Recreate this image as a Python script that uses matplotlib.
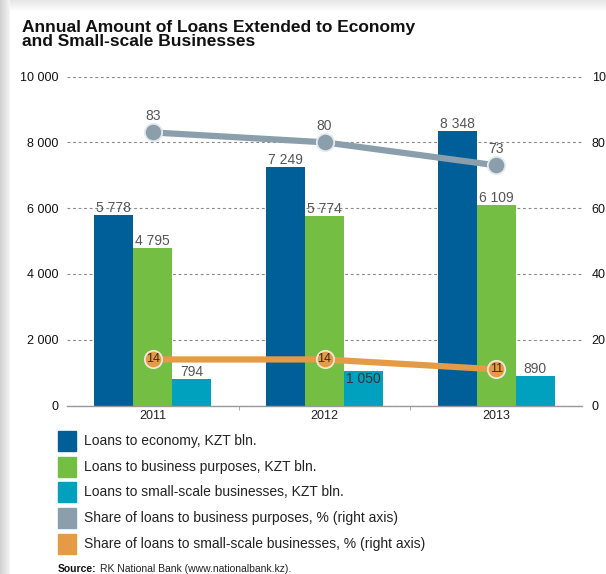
import numpy as np
import matplotlib
matplotlib.use('Agg')
import matplotlib.pyplot as plt
from matplotlib import font_manager
from matplotlib.patches import Rectangle

years = ['2011', '2012', '2013']
loans_economy = [5778, 7249, 8348]
loans_business = [4795, 5774, 6109]
loans_small = [794, 1050, 890]
share_business = [83, 80, 73]
share_small = [14, 14, 11]

left_ticks = [0, 2000, 4000, 6000, 8000, 10000]
right_ticks = [0, 20, 40, 60, 80, 100]

legend_labels = [
    'Loans to economy, KZT bln.',
    'Loans to business purposes, KZT bln.',
    'Loans to small-scale businesses, KZT bln.',
    'Share of loans to business purposes, % (right axis)',
    'Share of loans to small-scale businesses, % (right axis)',
]

COLOURS = {
    'economy': '#005f98',
    'business': '#74bf43',
    'small': '#00a0bf',
    'share_business': '#8a9fab',
    'share_small': '#e59a45',
}

W, H = 606, 574

# pick a narrow sans if there is one
available = {f.name for f in font_manager.fontManager.ttflist}
FONT = 'Liberation Sans Narrow' if 'Liberation Sans Narrow' in available else 'Liberation Sans'
plt.rcParams['font.family'] = [FONT, 'DejaVu Sans']


def fx(x):
    return x / W


def fy(y):
    return 1 - y / H


def fmt(v):
    return f'{v:,}'.replace(',', ' ')


fig = plt.figure(figsize=(W / 100, H / 100), dpi=100)
fig.patch.set_facecolor('white')

# card shadow on the left / top edge
bg = fig.add_axes([0, 0, 1, 1], zorder=-10)
bg.axis('off')
grad = np.linspace(0.82, 0.95, 10)
bg.imshow(np.tile(grad, (H, 1)), cmap='gray', vmin=0, vmax=1,
          extent=[0, 10, H, 0], aspect='auto')
grad_top = np.linspace(0.9, 0.98, 10)[:, None]
bg.imshow(np.tile(grad_top, (1, W - 10)), cmap='gray', vmin=0, vmax=1,
          extent=[10, W, 10, 0], aspect='auto')
bg.set_xlim(0, W)
bg.set_ylim(H, 0)

ax_left, ax_right, ax_top, ax_bottom = 67, 582, 76.5, 405.5
ax = fig.add_axes([fx(ax_left), fy(ax_bottom), (ax_right - ax_left) / W,
                   (ax_bottom - ax_top) / H])
ax.patch.set_alpha(0)

x = np.arange(len(years))
bw = 0.227
series = [
    (loans_economy, COLOURS['economy'], -bw),
    (loans_business, COLOURS['business'], 0),
    (loans_small, COLOURS['small'], bw),
]
inside_labels = {(2, 1)}

for s, (vals, col, off) in enumerate(series):
    ax.bar(x + off, vals, width=bw, color=col, zorder=2)
    for i, v in enumerate(vals):
        if (s, i) in inside_labels:
            ax.annotate(fmt(v), (x[i] + off, v), xytext=(0, -1),
                        textcoords='offset points', ha='center', va='top',
                        fontsize=10, color='#333333', zorder=5)
        else:
            ax.annotate(fmt(v), (x[i] + off, v), xytext=(0, 0),
                        textcoords='offset points', ha='center', va='bottom',
                        fontsize=10, color='#555555', zorder=5)

ax.set_xlim(-0.5, len(years) - 0.5)
ax.set_ylim(0, 10000)
ax.set_yticks(left_ticks)
ax.set_yticklabels([fmt(t) for t in left_ticks])
ax.set_xticks(x)
ax.set_xticklabels(years)
ax.set_xticks([0.5, 1.5], minor=True)
ax.tick_params(axis='x', which='major', length=0, pad=3, labelsize=9, labelcolor='#222222')
ax.tick_params(axis='x', which='minor', length=3, color='#999999')
ax.tick_params(axis='y', length=0, pad=6, labelsize=9, labelcolor='#111111')
ax.yaxis.grid(True, color='#888888', linestyle=(0, (2.5, 2.5)), linewidth=0.8)
ax.set_axisbelow(True)
for side in ['top', 'left', 'right']:
    ax.spines[side].set_visible(False)
ax.spines['bottom'].set_color('#999999')
ax.spines['bottom'].set_linewidth(1.0)

ax2 = ax.twinx()
ax2.set_ylim(0, 100)
ax2.set_yticks(right_ticks)
ax2.tick_params(axis='y', length=0, pad=7, labelsize=9, labelcolor='#111111')
for side in ['top', 'left', 'right', 'bottom']:
    ax2.spines[side].set_visible(False)

ax2.plot(x, share_business, color=COLOURS['share_business'], linewidth=4.5,
         marker='o', markersize=12.5, markerfacecolor=COLOURS['share_business'],
         markeredgecolor='#e4eaed', markeredgewidth=1.3, zorder=3)
for i, v in enumerate(share_business):
    ax2.annotate(str(v), (x[i], v), xytext=(0, 7), textcoords='offset points',
                 ha='center', va='bottom', fontsize=10, color='#555555')

ax2.plot(x, share_small, color=COLOURS['share_small'], linewidth=4.5,
         marker='o', markersize=12.5, markerfacecolor=COLOURS['share_small'],
         markeredgecolor='#f3e6d6', markeredgewidth=1.3, zorder=3)
for i, v in enumerate(share_small):
    ax2.annotate(str(v), (x[i], v), xytext=(0, 0), textcoords='offset points',
                 ha='center', va='center', fontsize=9, color='#3a2a1a')

# title
fig.text(fx(22), fy(20), 'Annual Amount of Loans Extended to Economy\nand Small-scale Businesses',
         ha='left', va='top', fontsize=12.5, fontweight='bold', color='#111111',
         linespacing=0.92)

# legend
legend_colours = [COLOURS['economy'], COLOURS['business'], COLOURS['small'],
                  COLOURS['share_business'], COLOURS['share_small']]
row_y = [441, 466.7, 492, 518, 544]
for lab, col, yc in zip(legend_labels, legend_colours, row_y):
    fig.patches.append(Rectangle((fx(58), fy(yc + 10)), 18 / W, 20 / H,
                                 transform=fig.transFigure, color=col, figure=fig))
    fig.text(fx(84), fy(yc), lab, ha='left', va='center', fontsize=10, color='#222222')

# source line
renderer = fig.canvas.get_renderer()
src = fig.text(fx(58), fy(569), 'Source:', ha='left', va='center', fontsize=7.5,
               fontweight='bold', color='#111111')
bb = src.get_window_extent(renderer)
fig.text(bb.x1 / W + fx(3), fy(569), 'RK National Bank (www.nationalbank.kz).',
         ha='left', va='center', fontsize=7.5, color='#222222')

fig.savefig('out.png', dpi=100)
